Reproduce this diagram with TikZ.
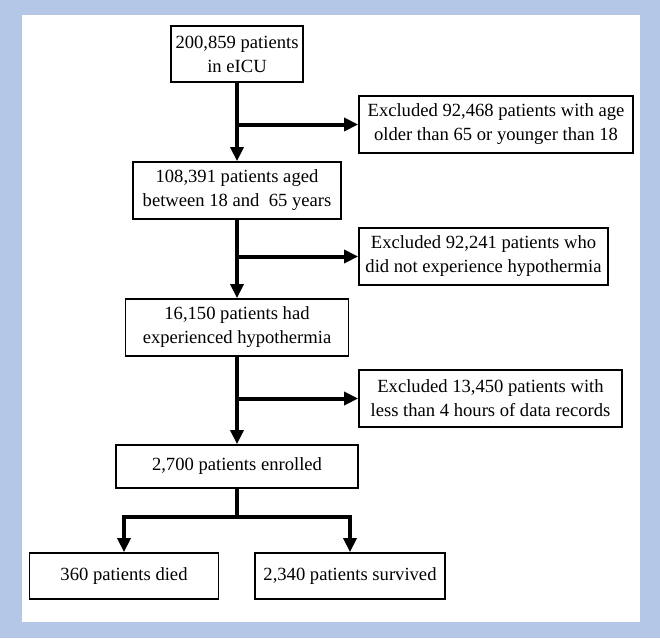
\documentclass[tikz,border=0pt]{standalone}
\usepackage{fontspec}
\setmainfont{Liberation Serif}
\usepackage{tikz}
\usetikzlibrary{arrows.meta}
\definecolor{frameblue}{HTML}{B4C7E7}
\begin{document}
\begin{tikzpicture}[x=1pt,y=-1pt,>={Triangle[length=14pt,width=13pt]},
  box/.style={draw,line width=1.8pt,align=center,inner sep=0pt,font=\fontsize{18.6}{24}\selectfont},
  flow/.style={line width=4pt}]
\fill[frameblue] (0,0) rectangle (660,638);
\fill[white] (22,15) rectangle (640,622);
\node[box,minimum width=132pt,minimum height=56pt] (total) at (237,54) {200,859 patients\\in eICU};
\node[box,minimum width=208pt,minimum height=57pt] (aged) at (237,190.5) {108,391 patients aged\\between 18 and~~65 years};
\node[box,minimum width=223pt,minimum height=57pt] (hypo) at (237,327.5) {16,150 patients had\\experienced hypothermia};
\node[box,minimum width=242pt,minimum height=43pt] (enrol) at (237,466.5) {2,700 patients enrolled};
\node[box,minimum width=189pt,minimum height=46pt] (died) at (124,576) {360 patients died};
\node[box,minimum width=190pt,minimum height=46pt] (surv) at (350,576) {2,340 patients survived};
\node[box,minimum width=274pt,minimum height=57pt] (exA) at (496,124.5) {Excluded 92,468 patients with age\\older than 65 or younger than 18};
\node[box,minimum width=249pt,minimum height=57pt] (exB) at (483.5,256.5) {Excluded 92,241 patients who\\did not experience hypothermia};
\node[box,minimum width=263pt,minimum height=57pt] (exC) at (490.5,398.5) {Excluded 13,450 patients with\\less than 4 hours of data records};
\draw[flow,->] (total) -- (aged); \draw[flow,->] (total.south |- exA.west) -- (exA.west);
\draw[flow,->] (aged) -- (hypo); \draw[flow,->] (aged.south |- exB.west) -- (exB.west);
\draw[flow,->] (hypo) -- (enrol); \draw[flow,->] (hypo.south |- exC.west) -- (exC.west);
\coordinate (split) at (237,517);
\draw[flow] (enrol) -- (split);
\draw[flow,->] (split) -| (died); \draw[flow,->] (split) -| (surv);
\end{tikzpicture}
\end{document}
